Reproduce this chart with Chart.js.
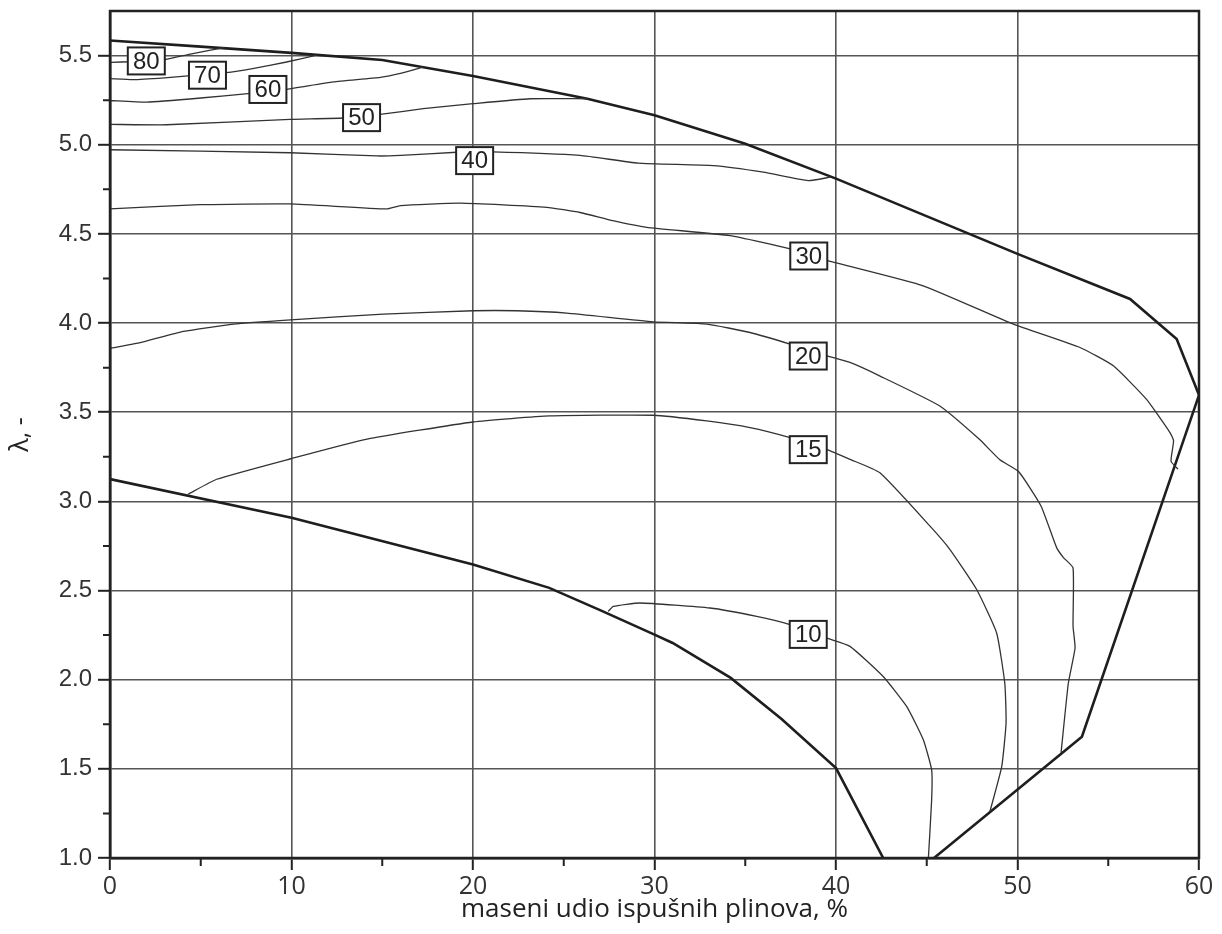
<!DOCTYPE html>
<html lang="hr">
<head>
  <meta charset="UTF-8">
  <title>λ - maseni udio ispušnih plinova</title>
  <script src="https://cdn.jsdelivr.net/npm/chart.js"></script>
  <style>
    html, body { margin: 0; padding: 0; background: #fff; }
    canvas { display: block; }
  </style>
</head>
<body>
  <canvas id="grafikon" width="1222" height="934"></canvas>

  <script>
    // granice područja (debele linije)
    const granicaGoreX = [0, 5, 10, 15, 20, 26.3, 30, 35, 40, 50, 56.2, 58.77, 60, 53.55, 45.4];
    const granicaGoreY = [5.585, 5.55, 5.515, 5.475, 5.385, 5.258, 5.165, 5.005, 4.81, 4.388, 4.135, 3.91, 3.596, 1.68, 1.0];
    const granicaDoljeX = [0, 10, 20, 24.2, 27, 30, 31, 34.2, 37, 40, 42.6];
    const granicaDoljeY = [3.125, 2.908, 2.646, 2.515, 2.39, 2.253, 2.206, 2.01, 1.78, 1.504, 1.0];

    // izolinije
    const k80x = [0, 1.3, 2.0, 3.03, 4.5, 6.3];
    const k80y = [5.462, 5.466, 5.47, 5.478, 5.51, 5.545];
    const k70x = [0, 1.28, 3, 4.3, 6.39, 8, 9.73, 11.4];
    const k70y = [5.371, 5.365, 5.375, 5.386, 5.404, 5.43, 5.464, 5.503];
    const k60x = [0, 2.02, 5, 7.6, 9.75, 12.3, 14.9, 16, 17.26];
    const k60y = [5.248, 5.239, 5.262, 5.287, 5.311, 5.352, 5.378, 5.40, 5.436];
    const k50x = [0, 3.12, 9.92, 12.85, 14.88, 17.26, 20, 23.14, 26.3];
    const k50y = [5.114, 5.112, 5.142, 5.15, 5.17, 5.202, 5.23, 5.258, 5.258];
    const k40x = [0, 9.92, 14.7, 16, 19.1, 21.08, 25.9, 29.1, 33.24, 36, 38.47, 39.67];
    const k40y = [4.972, 4.955, 4.937, 4.94, 4.958, 4.96, 4.94, 4.897, 4.883, 4.846, 4.799, 4.818];
    const k30x = [0, 4.96, 9.92, 15.24, 16, 19.28, 24.06, 25.9, 27.7, 29.57, 34.16, 37.47, 39.54, 44.8, 49.77, 53.44, 55.28, 57.1, 58.4, 58.6, 58.46, 58.84];
    const k30y = [4.64, 4.664, 4.668, 4.64, 4.659, 4.672, 4.649, 4.62, 4.574, 4.537, 4.49, 4.416, 4.35, 4.209, 3.994, 3.863, 3.76, 3.573, 3.386, 3.34, 3.225, 3.181];
    const k20x = [0, 1.84, 4.04, 6.8, 9.95, 15.06, 20, 22.4, 25.16, 29.93, 32.88, 35.26, 37.47, 39.5, 40.77, 42.4, 45.7, 47.9, 49.03, 50.07, 51.3, 52.15, 52.53, 53.06, 53.06, 53.17, 52.8, 52.4];
    const k20y = [3.858, 3.895, 3.953, 3.994, 4.018, 4.05, 4.069, 4.069, 4.056, 4.007, 3.994, 3.947, 3.882, 3.816, 3.779, 3.704, 3.536, 3.348, 3.233, 3.166, 2.973, 2.742, 2.685, 2.627, 2.30, 2.178, 1.98, 1.59];
    const k15x = [4.3, 5.88, 9.95, 14.1, 20, 24.24, 29.93, 32.88, 35.26, 37.47, 39.48, 40.77, 42.42, 45.18, 46.28, 47.75, 48.85, 49.3, 49.37, 49.13, 48.48];
    const k15y = [3.04, 3.124, 3.239, 3.348, 3.445, 3.479, 3.483, 3.451, 3.414, 3.358, 3.292, 3.236, 3.16, 2.861, 2.73, 2.506, 2.262, 1.98, 1.757, 1.512, 1.26];
    const k10x = [27.45, 27.73, 29.2, 33.06, 35.63, 37.47, 39.49, 40.77, 42.6, 43.9, 44.81, 45.27, 45.27, 45.09];
    const k10y = [2.383, 2.411, 2.43, 2.402, 2.355, 2.309, 2.233, 2.187, 2.018, 1.849, 1.663, 1.494, 1.326, 1.0];

    // oznake izolinija
    const oznakeTekst = ['80', '70', '60', '50', '40', '30', '20', '15', '10'];
    const oznakeX = [2.0, 5.37, 8.7, 13.86, 20.09, 38.5, 38.47, 38.47, 38.47];
    const oznakeY = [5.47, 5.39, 5.31, 5.152, 4.911, 4.376, 3.815, 3.29, 2.254];

    function tocke(xs, ys) {
      return xs.map((x, i) => ({ x: x, y: ys[i] }));
    }

    function linija(xs, ys, debela) {
      return {
        data: tocke(xs, ys),
        showLine: true,
        borderColor: debela ? '#1e1e1e' : '#333',
        borderWidth: debela ? 2.6 : 1.3,
        pointRadius: 0,
        tension: debela ? 0 : 0.15,
        fill: false
      };
    }

    const datasets = [
      linija(k80x, k80y), linija(k70x, k70y), linija(k60x, k60y),
      linija(k50x, k50y), linija(k40x, k40y), linija(k30x, k30y),
      linija(k20x, k20y), linija(k15x, k15y), linija(k10x, k10y),
      linija(granicaGoreX, granicaGoreY, true),
      linija(granicaDoljeX, granicaDoljeY, true)
    ];

    const jeGlavniX = v => Math.abs(v / 10 - Math.round(v / 10)) < 1e-6;
    const jeGlavniY = v => Math.abs(v * 2 - Math.round(v * 2)) < 1e-6;

    // okvir + kratke crtice za sporedne oznake
    const okvir = {
      id: 'okvir',
      afterDraw(chart) {
        const c = chart.ctx, a = chart.chartArea;
        const sx = chart.scales.x, sy = chart.scales.y;
        c.save();
        c.strokeStyle = '#222';
        c.lineWidth = 2.5;
        c.strokeRect(a.left, a.top, a.right - a.left, a.bottom - a.top);
        c.lineWidth = 2;
        c.beginPath();
        sx.ticks.forEach(t => {
          if (!jeGlavniX(t.value)) {
            const p = sx.getPixelForValue(t.value);
            c.moveTo(p, a.bottom); c.lineTo(p, a.bottom + 8);
          }
        });
        sy.ticks.forEach(t => {
          if (!jeGlavniY(t.value) && t.value < sy.max - 1e-6) {
            const p = sy.getPixelForValue(t.value);
            c.moveTo(a.left, p); c.lineTo(a.left - 7, p);
          }
        });
        c.stroke();
        c.restore();
      }
    };

    const oznake = {
      id: 'oznake',
      afterDatasetsDraw(chart) {
        const c = chart.ctx;
        const sx = chart.scales.x, sy = chart.scales.y;
        c.save();
        c.font = '24px "Liberation Sans", Arial, sans-serif';
        c.textAlign = 'center';
        c.textBaseline = 'middle';
        oznakeTekst.forEach((t, i) => {
          const px = sx.getPixelForValue(oznakeX[i]);
          const py = sy.getPixelForValue(oznakeY[i]);
          const w = 37, h = 27;
          c.fillStyle = '#fff';
          c.fillRect(px - w / 2, py - h / 2, w, h);
          c.strokeStyle = '#222';
          c.lineWidth = 2;
          c.strokeRect(px - w / 2, py - h / 2, w, h);
          c.fillStyle = '#222';
          c.fillText(t, px, py + 1);
        });
        c.restore();
      }
    };

    const ctx = document.getElementById('grafikon').getContext('2d');
    new Chart(ctx, {
      type: 'scatter',
      data: { datasets },
      options: {
        responsive: false,
        animation: false,
        layout: { padding: { top: 11, right: 23, left: 0, bottom: 0 } },
        plugins: { legend: { display: false }, tooltip: { enabled: false } },
        scales: {
          x: {
            type: 'linear', min: 0, max: 60,
            afterFit: s => { s.height = 76; },
            ticks: {
              stepSize: 5, autoSkip: false, maxRotation: 0, padding: 2,
              color: '#333',
              font: { family: '"Open Sans", sans-serif', size: 25 },
              callback: v => jeGlavniX(v) ? String(Math.round(v)) : ''
            },
            grid: {
              color: c => (c.tick && jeGlavniX(c.tick.value)) ? '#555' : 'rgba(0,0,0,0)',
              tickColor: c => (c.tick && jeGlavniX(c.tick.value)) ? '#222' : 'rgba(0,0,0,0)',
              lineWidth: 1.6, tickLength: 12, tickWidth: 2
            },
            border: { color: '#222', width: 2.5 },
            title: {
              display: true, text: 'maseni udio ispušnih plinova, %',
              color: '#222', font: { family: '"Open Sans", sans-serif', size: 26 },
              padding: { top: 0, bottom: 9 }
            }
          },
          y: {
            type: 'linear', min: 1.0, max: 5.75,
            afterFit: s => { s.width = 110; s.paddingTop = 0; s.paddingBottom = 0; },
            ticks: {
              stepSize: 0.25, autoSkip: false, padding: 6,
              color: '#333',
              font: { family: '"Liberation Sans", Arial, sans-serif', size: 24 },
              callback: v => jeGlavniY(v) ? v.toFixed(1) : ''
            },
            grid: {
              color: c => (c.tick && jeGlavniY(c.tick.value)) ? '#555' : 'rgba(0,0,0,0)',
              tickColor: c => (c.tick && jeGlavniY(c.tick.value)) ? '#222' : 'rgba(0,0,0,0)',
              lineWidth: 1.6, tickLength: 12, tickWidth: 2
            },
            border: { color: '#222', width: 2.5 },
            title: {
              display: true, text: 'λ, -',
              color: '#222', font: { family: '"Open Sans", sans-serif', size: 25 },
              padding: { top: 6, bottom: 0 }
            }
          }
        }
      },
      plugins: [okvir, oznake]
    });
  </script>
</body>
</html>
